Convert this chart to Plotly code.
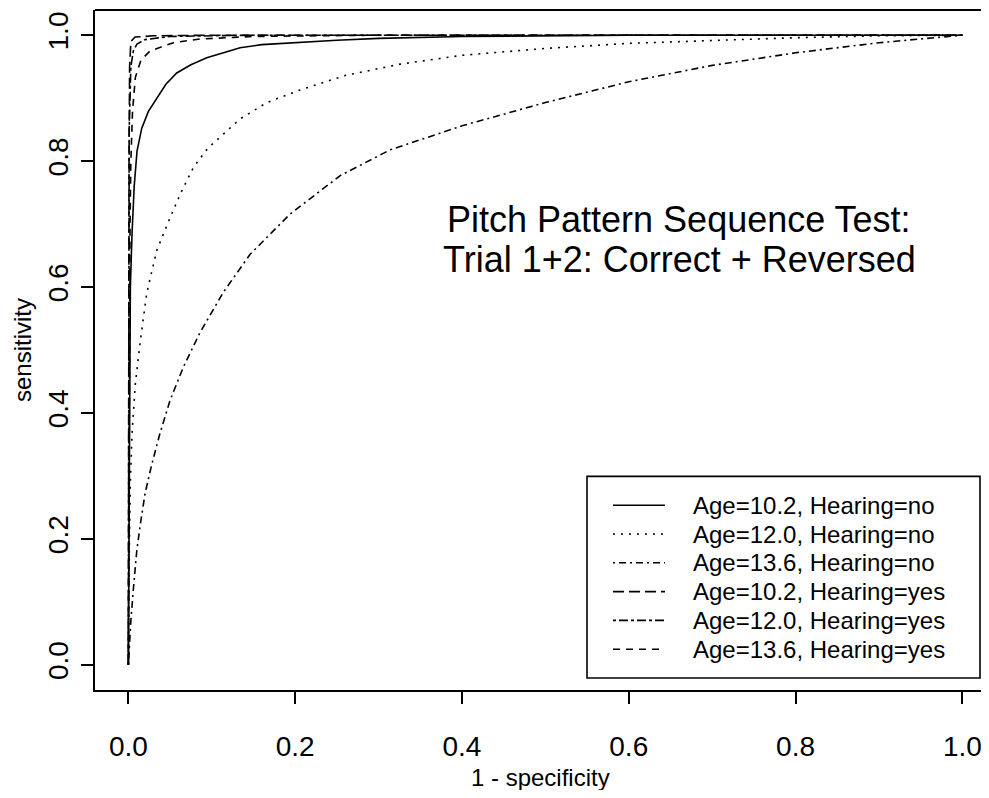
import plotly.graph_objects as go

# ROC curves: (1 - specificity, sensitivity)
series_names = [
    "Age=10.2, Hearing=no",
    "Age=12.0, Hearing=no",
    "Age=13.6, Hearing=no",
    "Age=10.2, Hearing=yes",
    "Age=12.0, Hearing=yes",
    "Age=13.6, Hearing=yes",
]

fpr_10_no = [0.0, 0.0005, 0.001, 0.0016, 0.0024, 0.0044, 0.007, 0.0104, 0.016, 0.024, 0.034, 0.045, 0.058,
             0.075, 0.094, 0.115, 0.134, 0.16, 0.194, 0.25, 0.30, 0.40, 0.60, 1.0]
sens_10_no = [0.0, 0.20, 0.35, 0.48, 0.60, 0.685, 0.76, 0.816, 0.852, 0.879, 0.90, 0.922, 0.94,
              0.953, 0.964, 0.973, 0.98, 0.985, 0.988, 0.992, 0.995, 0.998, 1.0, 1.0]

fpr_12_no = [0.0, 0.0005, 0.0012, 0.0024, 0.0044, 0.0084, 0.0144, 0.022, 0.034, 0.050, 0.063, 0.078, 0.095,
             0.114, 0.134, 0.166, 0.206, 0.26, 0.326, 0.40, 0.50, 0.60, 0.70, 0.80, 0.90, 1.0]
sens_12_no = [0.0, 0.10, 0.19, 0.288, 0.368, 0.447, 0.515, 0.59, 0.658, 0.71, 0.75, 0.79, 0.82,
              0.843, 0.867, 0.893, 0.913, 0.936, 0.954, 0.968, 0.979, 0.987, 0.992, 0.996, 0.999, 1.0]

fpr_13_no = [0.0, 0.001, 0.003, 0.006, 0.010, 0.014, 0.020, 0.028, 0.038, 0.050, 0.066, 0.086, 0.114, 0.146,
             0.194, 0.254, 0.314, 0.40, 0.50, 0.60, 0.70, 0.80, 0.90, 1.0]
sens_13_no = [0.0, 0.03, 0.07, 0.12, 0.18, 0.22, 0.272, 0.318, 0.368, 0.42, 0.473, 0.528, 0.592, 0.652,
              0.716, 0.777, 0.818, 0.856, 0.893, 0.926, 0.952, 0.972, 0.988, 1.0]

fpr_10_yes = [0.0, 0.0003, 0.0008, 0.0015, 0.003, 0.008, 0.03, 0.10, 1.0]
sens_10_yes = [0.0, 0.50, 0.80, 0.95, 0.99, 0.997, 0.999, 1.0, 1.0]

fpr_12_yes = [0.0, 0.0005, 0.001, 0.003, 0.006, 0.0104, 0.02, 0.05, 0.15, 1.0]
sens_12_yes = [0.0, 0.60, 0.85, 0.95, 0.975, 0.986, 0.993, 0.998, 1.0, 1.0]

fpr_13_yes = [0.0, 0.0005, 0.001, 0.002, 0.003, 0.005, 0.0084, 0.015, 0.026, 0.054, 0.086, 0.15, 0.30, 1.0]
sens_13_yes = [0.0, 0.30, 0.50, 0.70, 0.80, 0.88, 0.933, 0.96, 0.975, 0.988, 0.994, 0.998, 1.0, 1.0]

x_ticks = [0.0, 0.2, 0.4, 0.6, 0.8, 1.0]
x_tick_labels = ["0.0", "0.2", "0.4", "0.6", "0.8", "1.0"]
y_ticks = [0.0, 0.2, 0.4, 0.6, 0.8, 1.0]
y_tick_labels = ["0.0", "0.2", "0.4", "0.6", "0.8", "1.0"]

title_lines = ["Pitch Pattern Sequence Test:", "Trial 1+2: Correct + Reversed"]
x_title = "1 - specificity"
y_title = "sensitivity"

xs = [fpr_10_no, fpr_12_no, fpr_13_no, fpr_10_yes, fpr_12_yes, fpr_13_yes]
ys = [sens_10_no, sens_12_no, sens_13_no, sens_10_yes, sens_12_yes, sens_13_yes]
dashes = ["solid", "2px,6px", "2px,4px,7px,4px", "11px,5px", "3px,3px,9px,3px", "7px,6px"]

FONT = "Liberation Sans, Arial, sans-serif"

# ---- layout geometry (page body has an 8px margin; keep the figure inside the window
#      so that no scrollbars appear)
W, H = 973, 782
ML, MR, MT, MB = 87, 0, 2, 100
PW, PH = W - ML - MR, H - MT - MB
OFF = 8


def px(xpage):
    return (xpage - OFF - ML) / PW


def py(ypage):
    return (H - MB - (ypage - OFF)) / PH


fig = go.Figure()
for name, x, y, d in zip(series_names, xs, ys, dashes):
    fig.add_trace(go.Scatter(x=x, y=y, mode="lines", name=name, showlegend=False,
                             line=dict(color="black", width=1.6, dash=d)))

annotations = []
# in-plot title (two lines)
for i, line in enumerate(title_lines):
    annotations.append(dict(x=px(679), y=py(219 + 40 * i), xref="paper", yref="paper",
                            text=line, showarrow=False, xanchor="center", yanchor="middle",
                            font=dict(family=FONT, size=36, color="black")))
# axis titles
annotations.append(dict(x=px(540), y=py(777), xref="paper", yref="paper", text=x_title,
                        showarrow=False, xanchor="center", yanchor="middle",
                        font=dict(family=FONT, size=24, color="black")))
annotations.append(dict(x=px(22), y=py(350), xref="paper", yref="paper", text=y_title,
                        showarrow=False, xanchor="center", yanchor="middle", textangle=-90,
                        font=dict(family=FONT, size=24, color="black")))

shapes = []
# top frame line of plot box
shapes.append(dict(type="line", xref="paper", yref="paper", x0=0, x1=1, y0=1, y1=1,
                   line=dict(color="black", width=1.8)))

# legend box (bottom right, like R's legend)
row_gap = 28.8
leg_left, leg_right, leg_bottom = 587, 980, 678
leg_top = leg_bottom - row_gap * (len(series_names) + 1)
first_row = leg_top + row_gap
shapes.append(dict(type="rect", xref="paper", yref="paper",
                   x0=px(leg_left), x1=px(leg_right), y0=py(leg_bottom), y1=py(leg_top),
                   line=dict(color="black", width=1.6), fillcolor="white", layer="above"))
for i, (name, d) in enumerate(zip(series_names, dashes)):
    yc = first_row + row_gap * i
    shapes.append(dict(type="line", xref="paper", yref="paper",
                       x0=px(613), x1=px(665), y0=py(yc), y1=py(yc),
                       line=dict(color="black", width=1.6, dash=d), layer="above"))
    annotations.append(dict(x=px(691), y=py(yc), xref="paper", yref="paper", text=name,
                            showarrow=False, xanchor="left", yanchor="middle",
                            font=dict(family=FONT, size=24, color="black")))

fig.update_layout(
    width=W, height=H, autosize=False,
    margin=dict(l=ML, r=MR, t=MT, b=MB, pad=0),
    paper_bgcolor="white", plot_bgcolor="white",
    font=dict(family=FONT, color="black"),
    showlegend=False,
    annotations=annotations,
    shapes=shapes,
    xaxis=dict(range=[-0.04, -0.04 + PW / 834.0], tickvals=x_ticks, ticktext=x_tick_labels,
               showgrid=False, zeroline=False, showline=True, linecolor="black",
               linewidth=1.8, ticks="outside", ticklen=12, tickcolor="black",
               tickwidth=1.6, tickfont=dict(family=FONT, size=28),
               ticklabelstandoff=18, ticklabeloverflow="allow"),
    yaxis=dict(range=[-0.04, 1.04], tickvals=y_ticks, ticktext=y_tick_labels,
               showgrid=False, zeroline=False, showline=True, linecolor="black",
               linewidth=1.8, ticks="outside", ticklen=12, tickcolor="black",
               tickwidth=1.6, tickangle=-90, tickfont=dict(family=FONT, size=28),
               ticklabelstandoff=2, ticklabeloverflow="allow"),
)

fig.write_html("out.html")
